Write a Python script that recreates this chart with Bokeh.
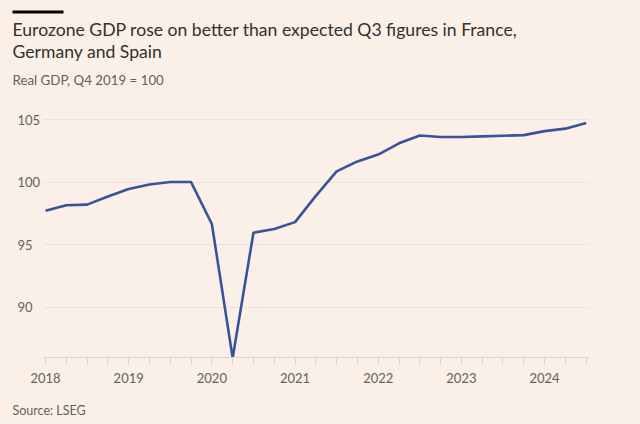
from bokeh.plotting import figure
from bokeh.layouts import column
from bokeh.models import (Label, BoxAnnotation, SingleIntervalTicker, FixedTicker,
                          Range1d)
from bokeh.embed import file_html
from bokeh.resources import INLINE

# ---- data (quarterly, Q1 2018 .. Q3 2024), Real GDP, Q4 2019 = 100 ----
quarters = [2018 + i * 0.25 for i in range(27)]
gdp = [97.7, 98.15, 98.2, 98.85, 99.45, 99.8, 100.0, 100.0,
       96.65, 85.95, 95.95, 96.25, 96.8, 98.9, 100.85, 101.65,
       102.2, 103.1, 103.72, 103.6, 103.6, 103.65, 103.7, 103.75,
       104.07, 104.27, 104.72]
y_ticks = [90, 95, 100, 105]
title_lines = ["Eurozone GDP rose on better than expected Q3 figures in France,",
               "Germany and Spain"]
subtitle = "Real GDP, Q4 2019 = 100"
source = "Source: LSEG"

BG = "#FAF0E7"
FONT = "Lato"
GRAY = "#66605c"
INK = "#33302e"

# x extent of the plotting area (the frame also holds the y labels on its left)
X_VIEW = (2017.459, 2024.54)
X_AXIS = (2017.976, 2024.54)
Y_VIEW = (85.98, 105.72)
Y_LABEL_AT = 2017.603


def blank(height):
    f = figure(width=640, height=height, output_backend="svg", toolbar_location=None,
               x_axis_type=None, y_axis_type=None, x_range=Range1d(0, 1),
               y_range=Range1d(0, 1), min_border=0, min_border_right=51)
    f.background_fill_color = BG
    f.border_fill_color = BG
    f.outline_line_color = None
    f.xgrid.visible = False
    f.ygrid.visible = False
    return f


# ---------------- header ----------------
head = blank(110)
head.add_layout(BoxAnnotation(left=12, right=63, top=100, bottom=97,
                              left_units="screen", right_units="screen",
                              top_units="screen", bottom_units="screen",
                              fill_color="#000000", fill_alpha=1, line_color=None))
head.add_layout(Label(x=12, y=81, x_units="screen", y_units="screen",
                      text=title_lines[0], text_font=FONT, text_font_size="17.6px",
                      text_color=INK, text_baseline="alphabetic"))
head.add_layout(Label(x=12, y=59, x_units="screen", y_units="screen",
                      text=title_lines[1], text_font=FONT, text_font_size="17.6px",
                      text_color=INK, text_baseline="alphabetic"))
head.add_layout(Label(x=12, y=31, x_units="screen", y_units="screen",
                      text=subtitle, text_font=FONT, text_font_size="13.3px",
                      text_color=GRAY, text_baseline="alphabetic"))

# ---------------- chart ----------------
p = figure(width=640, height=282, output_backend="svg", toolbar_location=None,
           x_range=Range1d(*X_VIEW), y_range=Range1d(*Y_VIEW),
           y_axis_location="right",
           min_border_left=0, min_border_right=51, min_border_top=0,
           min_border_bottom=35)
p.background_fill_color = BG
p.border_fill_color = BG
p.outline_line_color = None

p.line(quarters, gdp, line_color="#37549a", line_width=2.6, line_join="round")

xa = p.xaxis[0]
xa.bounds = X_AXIS
xa.ticker = SingleIntervalTicker(interval=1, num_minor_ticks=4)
xa.axis_line_color = "#ddd3ca"
xa.major_tick_line_color = "#ddd3ca"
xa.minor_tick_line_color = "#ddd3ca"
xa.major_tick_out = 7
xa.minor_tick_out = 7
xa.major_tick_in = 0
xa.minor_tick_in = 0
xa.major_label_text_font = FONT
xa.major_label_text_font_size = "13px"
xa.major_label_text_color = GRAY
xa.major_label_standoff = 8

ya = p.yaxis[0]
ya.fixed_location = Y_LABEL_AT
ya.ticker = FixedTicker(ticks=y_ticks)
ya.axis_line_color = None
ya.major_tick_line_color = None
ya.minor_tick_line_color = None
ya.major_tick_out = 0
ya.major_tick_in = 0
ya.minor_tick_out = 0
ya.minor_tick_in = 0
ya.major_label_text_font = FONT
ya.major_label_text_font_size = "13px"
ya.major_label_text_color = GRAY
ya.major_label_standoff = 5

p.xgrid.grid_line_color = None
p.ygrid.grid_line_color = "#ece2d8"
p.ygrid.ticker = FixedTicker(ticks=y_ticks)
try:
    p.ygrid.cross_bounds = X_AXIS
except Exception:
    pass

# ---------------- footer ----------------
foot = blank(32)
foot.add_layout(Label(x=12, y=14, x_units="screen", y_units="screen",
                      text=source, text_font=FONT, text_font_size="12.5px",
                      text_color=GRAY, text_baseline="alphabetic"))

page = column(head, p, foot, spacing=0)
page.styles = {"background-color": BG}

html = file_html(page, INLINE)
html = html.replace("<head>", "<head><style>html,body{background:%s;}</style>" % BG, 1)
open("out.html", "w").write(html)
